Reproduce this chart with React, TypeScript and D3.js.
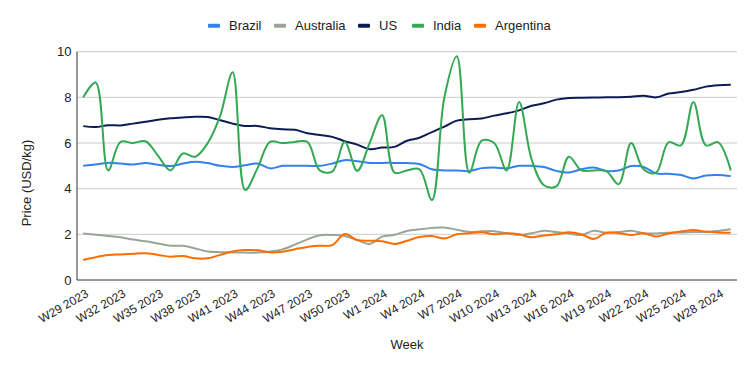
import * as d3 from 'd3';

const weeks = [
  'W29 2023', 'W30 2023', 'W31 2023', 'W32 2023', 'W33 2023', 'W34 2023', 'W35 2023', 'W36 2023',
  'W37 2023', 'W38 2023', 'W39 2023', 'W40 2023', 'W41 2023', 'W42 2023', 'W43 2023', 'W44 2023',
  'W45 2023', 'W46 2023', 'W47 2023', 'W48 2023', 'W49 2023', 'W50 2023', 'W51 2023', 'W52 2023',
  'W1 2024', 'W2 2024', 'W3 2024', 'W4 2024', 'W5 2024', 'W6 2024', 'W7 2024', 'W8 2024',
  'W9 2024', 'W10 2024', 'W11 2024', 'W12 2024', 'W13 2024', 'W14 2024', 'W15 2024', 'W16 2024',
  'W17 2024', 'W18 2024', 'W19 2024', 'W20 2024', 'W21 2024', 'W22 2024', 'W23 2024', 'W24 2024',
  'W25 2024', 'W26 2024', 'W27 2024', 'W28 2024', 'W29 2024',
];

const brazil = [
  5.0, 5.06, 5.13, 5.1, 5.06, 5.13, 5.05, 4.99, 5.1, 5.18, 5.12, 5.0, 4.95, 5.03, 5.1, 4.89,
  5.0, 5.0, 5.0, 5.0, 5.1, 5.25, 5.2, 5.13, 5.13, 5.13, 5.12, 5.08, 4.85, 4.8, 4.8, 4.77,
  4.9, 4.93, 4.89, 5.0, 5.0, 4.95, 4.78, 4.71, 4.85, 4.93, 4.78, 4.8, 4.99, 4.95, 4.67, 4.65,
  4.6, 4.45, 4.58, 4.6, 4.55,
];

const australia = [
  2.04, 1.98, 1.93, 1.87, 1.77, 1.7, 1.6, 1.5, 1.5, 1.38, 1.25, 1.22, 1.21, 1.2, 1.2, 1.25,
  1.34, 1.55, 1.78, 1.96, 1.97, 1.93, 1.75, 1.58, 1.9, 1.98, 2.15, 2.22, 2.28, 2.3, 2.2, 2.11,
  2.13, 2.14, 2.05, 1.97, 2.05, 2.16, 2.1, 2.04, 1.97, 2.16, 2.07, 2.1, 2.16, 2.05, 2.04, 2.07,
  2.08, 2.1, 2.1, 2.15, 2.22,
];

const us = [
  6.74, 6.7, 6.78, 6.77, 6.85, 6.93, 7.02, 7.08, 7.12, 7.15, 7.14, 7.0, 6.85, 6.75, 6.75, 6.65,
  6.6, 6.58, 6.43, 6.35, 6.27, 6.08, 5.93, 5.73, 5.8, 5.83, 6.1, 6.23, 6.48, 6.72, 6.98, 7.04,
  7.07, 7.2, 7.3, 7.43, 7.63, 7.74, 7.9, 7.97, 7.98, 7.99, 8.0, 8.01, 8.03, 8.07, 8.0, 8.17,
  8.23, 8.33, 8.47, 8.53, 8.55,
];

const india = [
  8.0, 8.65, 4.8, 6.05, 6.0, 6.08, 5.45, 4.8, 5.54, 5.4, 6.0, 7.2, 9.1, 3.94, 4.9, 6.05,
  6.0, 6.05, 6.05, 4.8, 4.75, 6.05, 4.78, 6.0, 7.22, 4.7, 4.8, 4.85, 3.5, 8.0, 9.8, 4.7,
  6.1, 6.0, 4.8, 7.8, 5.3, 4.15, 4.1, 5.4, 4.8, 4.8, 4.77, 4.2, 6.0, 4.85, 4.7, 6.03,
  5.9, 7.8, 5.9, 6.03, 4.8,
];

const argentina = [
  0.88, 1.0, 1.09, 1.12, 1.15, 1.17, 1.1, 1.02, 1.05, 0.95, 0.95, 1.1, 1.25, 1.31, 1.3, 1.21,
  1.24, 1.35, 1.45, 1.5, 1.53, 2.01, 1.75, 1.72, 1.7, 1.58, 1.72, 1.88, 1.93, 1.82, 2.0, 2.05,
  2.09, 2.0, 2.05, 2.0, 1.87, 1.95, 2.0, 2.09, 2.0, 1.8, 2.07, 2.05, 1.97, 2.05, 1.9, 2.04,
  2.12, 2.19, 2.12, 2.08, 2.07,
];

const yTicks = [0, 2, 4, 6, 8, 10];

const series = [
  { name: 'Brazil', values: brazil, color: '#3381ef' },
  { name: 'Australia', values: australia, color: '#98a598' },
  { name: 'US', values: us, color: '#0c1c52' },
  { name: 'India', values: india, color: '#34a853' },
  { name: 'Argentina', values: argentina, color: '#ff6d01' },
];

// legend x positions (swatch start)
const legendX = [208, 274, 358, 412, 474];

const width = 755;
const height = 371;
const left = 77;
const right = 737;
const top = 51.7;
const bottom = 280;
const font = '"Liberation Sans", Arial, sans-serif';

export default function App() {
  const x = d3.scaleBand<string>().domain(weeks).range([left, right]);
  const cx = (w: string) => (x(w) ?? 0) + x.bandwidth() / 2;
  const y = d3.scaleLinear([0, 10], [bottom, top]);

  const line = d3
    .line<number>()
    .x((d, i) => cx(weeks[i]))
    .y((d) => y(d))
    .curve(d3.curveCatmullRom.alpha(0.5));

  // draw order: US first so others sit on top like the reference
  const drawOrder = ['US', 'Australia', 'Argentina', 'Brazil', 'India'];

  return (
    <svg
      width={width}
      height={height}
      style={{ position: 'absolute', left: 0, top: 0, background: '#fff' }}
      fontFamily={font}
    >
      {/* grid */}
      {yTicks.slice(1).map((t) => (
        <line key={t} x1={left} x2={right} y1={y(t)} y2={y(t)} stroke="#cccccc" strokeWidth={1} />
      ))}
      {yTicks.map((t) => (
        <text key={t} x={71.5} y={y(t)} dy="0.35em" textAnchor="end" fontSize={13} fill="#222">
          {t}
        </text>
      ))}

      {/* series */}
      {drawOrder.map((n) => {
        const s = series.find((d) => d.name === n)!;
        return (
          <path key={n} d={line(s.values) ?? ''} fill="none" stroke={s.color} strokeWidth={2} />
        );
      })}

      {/* axes */}
      <line x1={left} x2={left} y1={top} y2={bottom} stroke="#333" strokeWidth={1} />
      <line x1={left} x2={right} y1={bottom} y2={bottom} stroke="#333" strokeWidth={1} />

      {/* x labels */}
      {weeks
        .filter((w, i) => i % 3 === 0 && i < 52)
        .map((w) => (
          <text
            key={w}
            transform={`translate(${cx(w) + 6},${bottom + 16}) rotate(-30)`}
            textAnchor="end"
            fontSize={12}
            fill="#222"
          >
            {w}
          </text>
        ))}

      {/* axis titles */}
      <text x={(left + right) / 2} y={349} textAnchor="middle" fontSize={13} fill="#222">
        Week
      </text>
      <text
        transform={`translate(31,183) rotate(-90)`}
        textAnchor="middle"
        fontSize={13}
        fill="#222"
      >
        Price (USD/kg)
      </text>

      {/* legend */}
      {series.map((s, i) => (
        <g key={s.name} transform={`translate(${legendX[i]},25.7)`}>
          <rect x={0} y={-2} width={12} height={4} rx={1} fill={s.color} />
          <text x={21} dy="0.35em" fontSize={13} fill="#222">
            {s.name}
          </text>
        </g>
      ))}
    </svg>
  );
}
